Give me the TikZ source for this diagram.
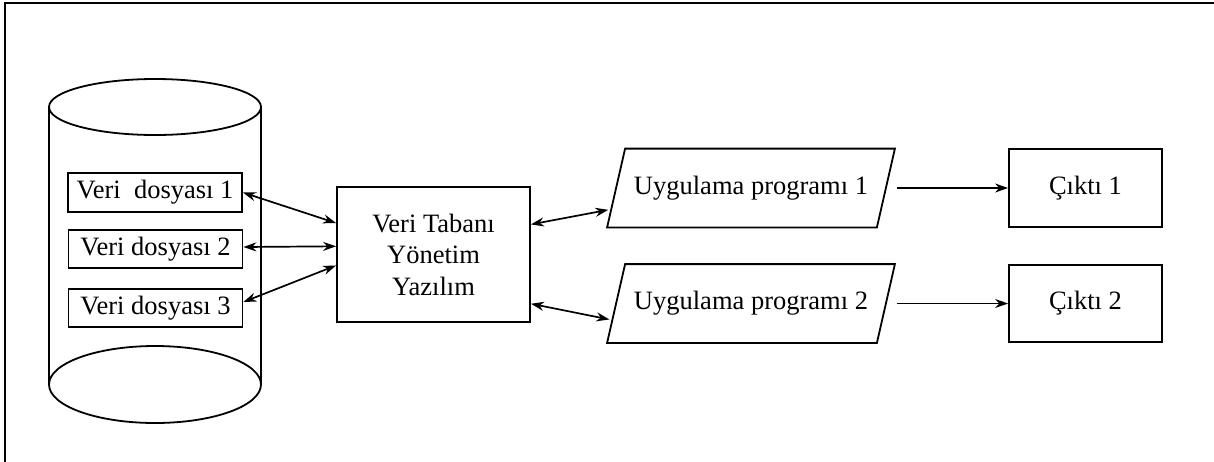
\documentclass[tikz,border=0pt]{standalone}
\usepackage{fontspec}
\setmainfont{Liberation Serif}
\usetikzlibrary{arrows.meta,calc}
\begin{document}
\begin{tikzpicture}[x=1pt,y=-1pt,line width=1.8pt,
  lbl/.style={font=\fontsize{26.5}{31.5}\selectfont},
  box/.style={draw,rectangle,inner sep=0pt,lbl},
  paracore/.style={rectangle,inner sep=0pt,minimum width=268pt,minimum height=77pt,lbl},
  arr/.style={-{Stealth[length=13pt,width=9pt]},line width=1.7pt},
  darr/.style={{Stealth[length=13pt,width=9pt]}-{Stealth[length=13pt,width=9pt]},line width=1.7pt}]
\useasboundingbox (0,0) rectangle (1214,461);
% frame
\draw[line width=2pt] (1230,3) -- (5,3) -- (5,480);
% cylinder
\draw (49,107) -- (49,384);
\draw (261,107) -- (261,384);
\draw (155,107) ellipse [x radius=106pt,y radius=28pt];
\draw (155,384.5) ellipse [x radius=106pt,y radius=38.5pt];
% data files
\node[box,minimum width=174pt,minimum height=39pt] (v1) at (155,192.5) {Veri\ \ dosyası 1};
\node[box,minimum width=174pt,minimum height=38pt] (v2) at (155.5,249) {Veri dosyası 2};
\node[box,minimum width=174pt,minimum height=38pt] (v3) at (155.5,308) {Veri dosyası 3};
% DBMS
\node[box,minimum width=193pt,minimum height=135pt,align=center] (db) at (433.5,254.5)
  {Veri Tabanı\\Yönetim\\Yazılım};
% programs (parallelograms)
\node[paracore] (p1) at (751,188) {Uygulama programı 1};
\node[paracore] (p2) at (751,303.5) {Uygulama programı 2};
\foreach \p in {p1,p2}{
  \draw ([xshift=-9pt]\p.south west) -- ([xshift=9pt]\p.north west)
     -- ([xshift=9pt]\p.north east) -- ([xshift=-9pt]\p.south east) -- cycle;
}
% outputs
\node[box,minimum width=153pt,minimum height=78pt] (c1) at (1085.5,188) {Çıktı 1};
\node[box,minimum width=153pt,minimum height=77pt] (c2) at (1085.5,303.5) {Çıktı 2};
% connectors
\draw[darr] (v1.east) -- ($(db.north west)!0.27!(db.south west)$);
\draw[darr] ([yshift=2pt]v2.east) -- ($(db.north west)!0.44!(db.south west)$);
\draw[darr] ([yshift=6pt]v3.east) -- ($(db.north west)!0.58!(db.south west)$);
\draw[darr,shorten >=3pt] ($(db.north east)!0.28!(db.south east)$) -- ($([xshift=-9pt]p1.south west)!0.23!([xshift=9pt]p1.north west)$);
\draw[darr,shorten >=3pt] ($(db.north east)!0.86!(db.south east)$) -- ($([xshift=-9pt]p2.south west)!0.29!([xshift=9pt]p2.north west)$);
\draw[arr] ([xshift=11pt]p1.east) -- (c1.west);
\draw[arr] ([xshift=11pt]p2.east) -- (c2.west);
\end{tikzpicture}
\end{document}
